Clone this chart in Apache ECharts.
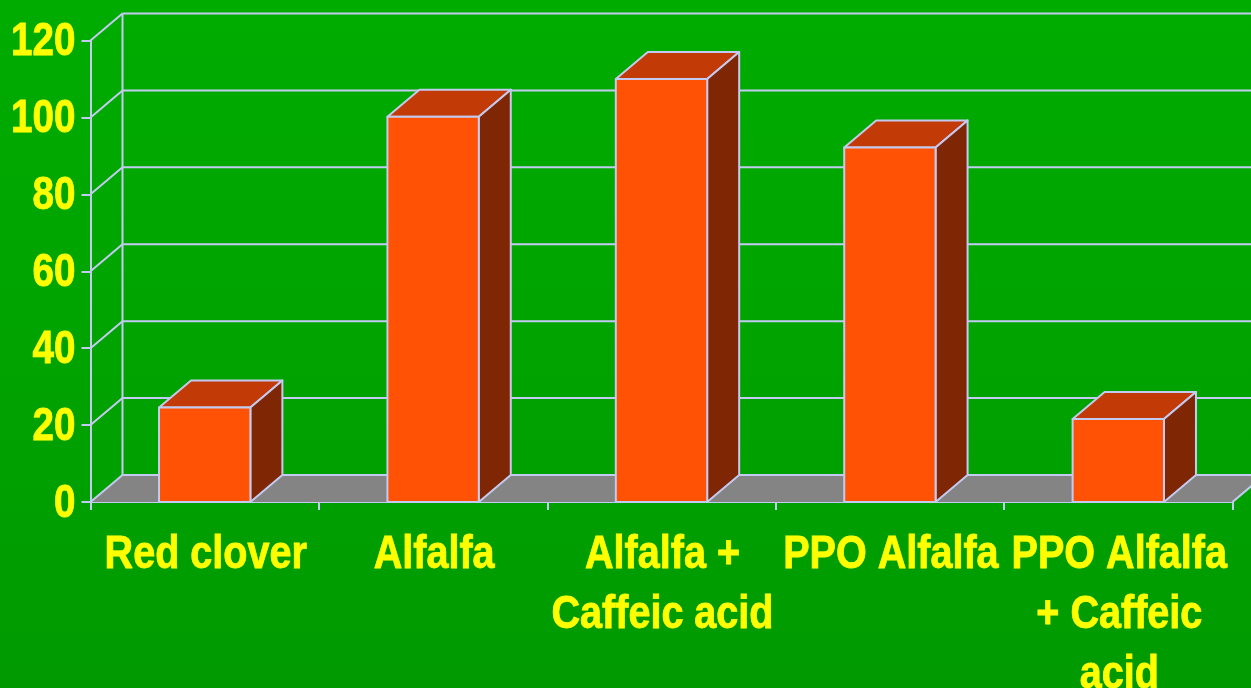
<!DOCTYPE html>
<html>
<head>
<meta charset="utf-8">
<style>html,body{margin:0;padding:0;background:#00a300}#c{width:1251px;height:688px}</style>
<script src="https://cdn.jsdelivr.net/npm/echarts@6/dist/echarts.min.js"></script>
</head>
<body>
<div id="c"></div>
<script>
const categories = ['Red clover', 'Alfalfa', 'Alfalfa +\nCaffeic acid', 'PPO Alfalfa', 'PPO Alfalfa\n+ Caffeic\nacid'];
const values = [24.6, 100.2, 110, 92.2, 21.6];
const yTicks = [0, 20, 40, 60, 80, 100, 120];

const DX = 32, DY = 27;
const LINE = '#c3cbf2', FRONT = '#ff5205', TOP = '#c23a05', SIDE = '#7f2705', FLOOR = '#848484', TEXT = '#ffff00';
const FONT = '"Liberation Sans",Arial,sans-serif';
const lineStyle = { stroke: LINE, lineWidth: 2, fill: null };
const labelStyle = { fill: TEXT, stroke: TEXT, lineWidth: 0.8, fontFamily: FONT, fontWeight: 'bold', fontSize: 46 };

function renderWall(params, api) {
  const cs = params.coordSys;
  const v = api.value(1);
  const y = api.coord([0, v])[1];
  const x0 = cs.x, x1 = cs.x + cs.width;
  const kids = [];
  if (v === 0) {
    kids.push({ type: 'polygon', shape: { points: [[x0, y], [x0 + DX, y - DY], [x1 + DX, y - DY], [x1, y]] }, style: { fill: FLOOR } });
    kids.push({ type: 'line', shape: { x1: x0 + DX, y1: y - DY, x2: x0 + DX, y2: cs.y - DY }, style: lineStyle });
    kids.push({ type: 'line', shape: { x1: x1, y1: y, x2: x1 + DX, y2: y - DY }, style: lineStyle });
  }
  kids.push({ type: 'line', shape: { x1: x0, y1: y, x2: x0 + DX, y2: y - DY }, style: lineStyle });
  kids.push({ type: 'line', shape: { x1: x0 + DX, y1: y - DY, x2: x1 + DX, y2: y - DY }, style: lineStyle });
  kids.push({ type: 'text', x: x0 - 15, y: y + 2, scaleX: 0.84,
    style: Object.assign({ text: String(v), align: 'right', verticalAlign: 'middle' }, labelStyle) });
  return { type: 'group', children: kids };
}

function renderBar(params, api) {
  const i = api.value(0), v = api.value(1);
  const top = api.coord([i, v]), base = api.coord([i, 0]);
  const w = api.size([1, 0])[0] * 0.4;
  const l = top[0] - w / 2, r = top[0] + w / 2, t = top[1], b = base[1];
  const st = f => ({ fill: f, stroke: LINE, lineWidth: 2, lineJoin: 'round' });
  return {
    type: 'group',
    children: [
      { type: 'polygon', shape: { points: [[l, t], [l + DX, t - DY], [r + DX, t - DY], [r, t]] }, style: st(TOP) },
      { type: 'polygon', shape: { points: [[r, t], [r + DX, t - DY], [r + DX, b - DY], [r, b]] }, style: st(SIDE) },
      { type: 'polygon', shape: { points: [[l, t], [r, t], [r, b], [l, b]] }, style: st(FRONT) },
      { type: 'text', x: top[0] + 1, y: b + 23, scaleX: 0.86,
        style: Object.assign({ text: categories[i], align: 'center', verticalAlign: 'top', lineHeight: 60 }, labelStyle) }
    ]
  };
}

const chart = echarts.init(document.getElementById('c'), null, { renderer: 'canvas' });
chart.setOption({
  animation: false,
  backgroundColor: {
    type: 'linear', x: 0, y: 0, x2: 0, y2: 1,
    colorStops: [{ offset: 0, color: '#00ac00' }, { offset: 1, color: '#009a00' }]
  },
  grid: { left: 90.5, right: 18.5, top: 40.5, bottom: 186, containLabel: false, outerBoundsMode: 'none' },
  xAxis: {
    type: 'category',
    data: categories,
    boundaryGap: true,
    axisLine: { lineStyle: { color: LINE, width: 2 } },
    axisTick: { show: true, length: 8, alignWithLabel: false, lineStyle: { color: LINE, width: 2 } },
    axisLabel: { show: false }
  },
  yAxis: {
    type: 'value', min: 0, max: 120, interval: 20,
    axisLine: { show: true, lineStyle: { color: LINE, width: 2 } },
    axisTick: { show: true, length: 9, lineStyle: { color: LINE, width: 2 } },
    splitLine: { show: false },
    axisLabel: { show: false }
  },
  series: [
    { type: 'custom', name: 'walls', z: 1, clip: false, renderItem: renderWall, encode: { x: 0, y: 1 },
      data: yTicks.map(v => [0, v]) },
    { type: 'custom', name: 'bars', z: 5, clip: false, renderItem: renderBar, encode: { x: 0, y: 1 },
      data: values.map((v, i) => [i, v]) }
  ]
});
</script>
</body>
</html>
